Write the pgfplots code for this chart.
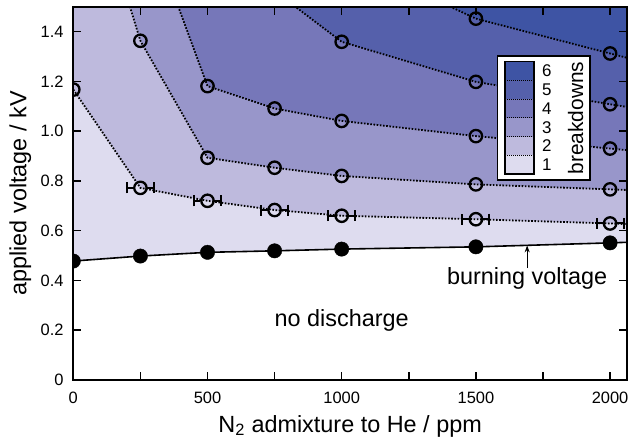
\documentclass[border=0pt]{standalone}
\usepackage{fontspec}
\setmainfont{Liberation Sans}
\usepackage{pgfplots}
\pgfplotsset{compat=1.18}
\usetikzlibrary{arrows.meta}
\definecolor{lv1}{RGB}{222,220,239}
\definecolor{lv2}{RGB}{190,186,221}
\definecolor{lv3}{RGB}{152,150,202}
\definecolor{lv4}{RGB}{118,119,185}
\definecolor{lv5}{RGB}{85,96,171}
\definecolor{lv6}{RGB}{62,84,164}
\begin{document}
\begin{tikzpicture}
\begin{axis}[
  scale only axis, width=553.7bp, height=373.3bp,
  xmin=0, xmax=2063, ymin=0, ymax=1.5,
  xtick={0,500,1000,1500,2000}, xticklabels={0,500,1000,1500,2000},
  minor xtick={250,750,1250,1750},
  ytick={0,0.2,0.4,0.6,0.8,1.0,1.2,1.4},
  yticklabels={0,0.2,0.4,0.6,0.8,1.0,1.2,1.4},
  tick align=inside, major tick length=8bp, minor tick length=8bp,
  every tick/.style={line width=1.6bp, black},
  axis line style={line width=2bp},
  tick label style={font=\fontsize{16.5}{19}\selectfont},
  xticklabel style={anchor=base, yshift=-23bp},
  yticklabel style={anchor=east, inner sep=0pt, xshift=-9.5bp},
  label style={font=\fontsize{23.5}{28}\selectfont},
  xlabel={N\textsubscript{2} admixture to He / ppm},
  ylabel={applied voltage / kV},
  xlabel style={at={(axis description cs:0.5,-0.1393)}, anchor=base},
  ylabel style={at={(axis description cs:-0.0957,0.5)}, anchor=center},
  axis on top, clip marker paths=true,
]
% fills
\addplot[fill=lv1, draw=none] coordinates {(0,0.478) (250,0.498) (500,0.513) (750,0.519) (1000,0.526) (1500,0.535) (2000,0.551) (2080,0.554) (2080,1.6) (0,1.6)} -- cycle;
\addplot[fill=lv2, draw=none] coordinates {(0,1.167) (250,0.772) (500,0.72) (750,0.683) (1000,0.66) (1500,0.646) (2000,0.629) (2080,0.626) (2080,1.6) (0,1.6)} -- cycle;
\addplot[fill=lv3, draw=none] coordinates {(196.8,1.55) (250,1.363) (500,0.893) (750,0.853) (1000,0.82) (1500,0.786) (2000,0.766) (2080,0.763) (2080,1.6) (196.8,1.6)} -- cycle;
\addplot[fill=lv4, draw=none] coordinates {(374,1.55) (500,1.181) (750,1.091) (1000,1.041) (1500,0.98) (2000,0.93) (2080,0.922) (2080,1.6) (374,1.6)} -- cycle;
\addplot[fill=lv5, draw=none] coordinates {(766,1.55) (1000,1.359) (1500,1.198) (2000,1.108) (2080,1.094) (2080,1.6) (766,1.6)} -- cycle;
\addplot[fill=lv6, draw=none] coordinates {(1306,1.55) (1500,1.452) (2000,1.312) (2080,1.29) (2080,1.6) (1306,1.6)} -- cycle;
% boundary lines
\pgfplotsset{dotline/.style={black, line width=1.8bp, dash pattern=on 1.6bp off 1.6bp, mark=none}}
\addplot[dotline] coordinates {(0,1.167) (250,0.772) (500,0.72) (750,0.683) (1000,0.66) (1500,0.646) (2000,0.629) (2080,0.626)};
\addplot[dotline] coordinates {(196.8,1.55) (250,1.363) (500,0.893) (750,0.853) (1000,0.82) (1500,0.786) (2000,0.766) (2080,0.763)};
\addplot[dotline] coordinates {(374,1.55) (500,1.181) (750,1.091) (1000,1.041) (1500,0.98) (2000,0.93) (2080,0.922)};
\addplot[dotline] coordinates {(766,1.55) (1000,1.359) (1500,1.198) (2000,1.108) (2080,1.094)};
\addplot[dotline] coordinates {(1306,1.55) (1500,1.452) (2000,1.312) (2080,1.29)};
\addplot[black, line width=1.6bp, mark=none] coordinates {(0,0.478) (250,0.498) (500,0.513) (750,0.519) (1000,0.526) (1500,0.535) (2000,0.551) (2080,0.554)};
% markers
\pgfplotsset{openmk/.style={only marks, mark=o, mark size=6.2bp, mark options={line width=2.3bp, black, solid}}}
\addplot[openmk] coordinates {(0,1.167)};
\addplot[openmk] coordinates {(250,1.363) (500,0.893) (750,0.853) (1000,0.82) (1500,0.786) (2000,0.766)};
\addplot[openmk] coordinates {(500,1.181) (750,1.091) (1000,1.041) (1500,0.98) (2000,0.93)};
\addplot[openmk] coordinates {(1000,1.359) (1500,1.198) (2000,1.108)};
\addplot[openmk] coordinates {(1500,1.452) (2000,1.312)};
\addplot[openmk, error bars/.cd, x dir=both, x explicit,
  error bar style={line width=2bp, dash pattern=on 7bp off 7bp, dash phase=7bp},
  error mark options={line width=2bp, mark size=5.5bp, solid, rotate=90}]
  coordinates {(250,0.772) +- (50,0) (500,0.72) +- (50,0) (750,0.683) +- (50,0) (1000,0.66) +- (50,0) (1500,0.646) +- (50,0) (2000,0.629) +- (50,0)};
\addplot[only marks, mark=*, mark size=7.2bp, mark options={black}] coordinates {(0,0.478) (250,0.498) (500,0.513) (750,0.519) (1000,0.526) (1500,0.535) (2000,0.551)};
% annotations
\node[anchor=base, font=\fontsize{23.5}{28}\selectfont] at (axis cs:1000,0.214) {no discharge};
\node[anchor=base, font=\fontsize{23.5}{28}\selectfont] at (axis cs:1691,0.3835) {burning voltage};
\draw[line width=1.2bp, -{Stealth[length=7bp, width=5bp]}] (axis cs:1691,0.45) -- (axis cs:1691,0.541);
% legend
\draw[line width=1.5bp, fill=white] (axis description cs:0.7658,0.5358) rectangle (axis description cs:0.9332,0.8680);
\fill[lv1] (axis description cs:0.7797,0.5518) rectangle (axis description cs:0.8321,0.60195);
\fill[lv2] (axis description cs:0.7797,0.60195) rectangle (axis description cs:0.8321,0.6521);
\fill[lv3] (axis description cs:0.7797,0.6521) rectangle (axis description cs:0.8321,0.70225);
\fill[lv4] (axis description cs:0.7797,0.70225) rectangle (axis description cs:0.8321,0.7524);
\fill[lv5] (axis description cs:0.7797,0.7524) rectangle (axis description cs:0.8321,0.80255);
\fill[lv6] (axis description cs:0.7797,0.80255) rectangle (axis description cs:0.8321,0.8527);
\draw[line width=1bp, dash pattern=on 1bp off 1bp] (axis description cs:0.7797,0.60195) -- (axis description cs:0.8321,0.60195);
\draw[line width=1bp, dash pattern=on 1bp off 1bp] (axis description cs:0.7797,0.6521) -- (axis description cs:0.8321,0.6521);
\draw[line width=1bp, dash pattern=on 1bp off 1bp] (axis description cs:0.7797,0.70225) -- (axis description cs:0.8321,0.70225);
\draw[line width=1bp, dash pattern=on 1bp off 1bp] (axis description cs:0.7797,0.7524) -- (axis description cs:0.8321,0.7524);
\draw[line width=1bp, dash pattern=on 1bp off 1bp] (axis description cs:0.7797,0.80255) -- (axis description cs:0.8321,0.80255);
\draw[line width=1.5bp] (axis description cs:0.7797,0.5518) rectangle (axis description cs:0.8321,0.8527);
\node[font=\fontsize{17}{20}\selectfont, inner sep=0pt] at (axis description cs:0.855,0.5769) {1};
\node[font=\fontsize{17}{20}\selectfont, inner sep=0pt] at (axis description cs:0.855,0.6270) {2};
\node[font=\fontsize{17}{20}\selectfont, inner sep=0pt] at (axis description cs:0.855,0.6772) {3};
\node[font=\fontsize{17}{20}\selectfont, inner sep=0pt] at (axis description cs:0.855,0.7273) {4};
\node[font=\fontsize{17}{20}\selectfont, inner sep=0pt] at (axis description cs:0.855,0.7775) {5};
\node[font=\fontsize{17}{20}\selectfont, inner sep=0pt] at (axis description cs:0.855,0.8276) {6};
\node[rotate=90, font=\fontsize{21}{25}\selectfont, inner sep=0pt] at (axis description cs:0.9074,0.7018) {breakdowns};
\coordinate (SW) at (rel axis cs:0,0);
\coordinate (NE) at (rel axis cs:1,1);
\end{axis}
\pgfresetboundingbox
\path[use as bounding box] ([xshift=-73.3bp,yshift=-63bp]SW) rectangle ([xshift=3bp,yshift=6.7bp]NE);
\end{tikzpicture}
\end{document}
